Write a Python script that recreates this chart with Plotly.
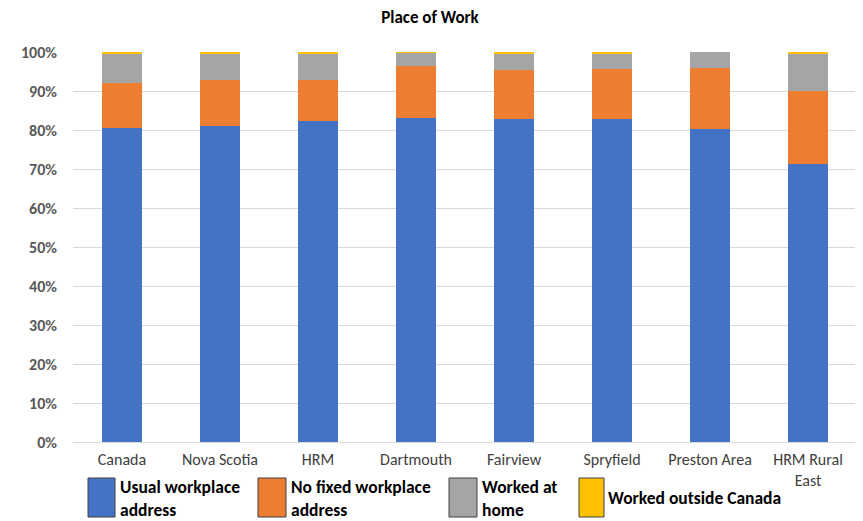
import plotly.graph_objects as go

categories = ["Canada", "Nova Scotia", "HRM", "Dartmouth", "Fairview", "Spryfield", "Preston Area", "HRM Rural<br>East"]
usual_workplace = [80.6, 80.9, 82.3, 83.2, 82.9, 82.9, 80.2, 71.3]
no_fixed = [11.5, 12.0, 10.6, 13.1, 12.6, 12.8, 15.8, 18.7]
worked_home = [7.5, 6.7, 6.6, 3.5, 4.0, 3.8, 4.0, 9.4]
outside_canada = [0.4, 0.4, 0.5, 0.2, 0.5, 0.5, 0.0, 0.6]

series_names = ["Usual workplace<br>address", "No fixed workplace<br>address", "Worked at<br>home", "Worked outside Canada"]
series_values = [usual_workplace, no_fixed, worked_home, outside_canada]
colors = ["#4472C4", "#ED7D31", "#A5A5A5", "#FFC000"]

FONT = "Carlito, Lato, 'Open Sans', sans-serif"
OFF = 8  # page body margin
W, H = 855, 513
ML, MR, MT, MB = 65, 6, 44, 79

fig = go.Figure()
for name, vals, col in zip(series_names, series_values, colors):
    fig.add_trace(go.Bar(x=categories, y=vals, name=name, marker_color=col,
                         marker_line_width=0, showlegend=False))

pw = W - ML - MR
ph = H - MT - MB

def px2x(px):
    return (px - OFF - ML) / pw

def px2y(py):
    return (H - MB - (py - OFF)) / ph

# custom legend with tall swatches (window pixel positions)
legend_items = [
    (88, 115, 118, series_names[0]),
    (258, 286, 289, series_names[1]),
    (449, 477, 480, series_names[2]),
    (579, 604, 606, series_names[3]),
]
shapes = []
annotations = []
for (x0, x1, tx, label), col in zip(legend_items, colors):
    shapes.append(dict(type="rect", xref="paper", yref="paper",
                       x0=px2x(x0), x1=px2x(x1), y0=px2y(517), y1=px2y(478),
                       fillcolor=col, line=dict(color="#404040", width=1)))
    annotations.append(dict(xref="paper", yref="paper", x=px2x(tx), y=px2y(498),
                            text="<b>" + label + "</b>", showarrow=False,
                            xanchor="left", yanchor="middle", align="left",
                            font=dict(family=FONT, size=17.5, color="#000000")))

fig.update_layout(
    width=W, height=H,
    margin=dict(l=ML, r=MR, t=MT, b=MB),
    paper_bgcolor="white", plot_bgcolor="white",
    barmode="stack", bargap=0.59,
    title=dict(text="<b>Place of Work</b>", x=(430 - OFF) / W, xanchor="center",
               y=1 - (17 - OFF) / H, yanchor="middle",
               font=dict(family=FONT, size=17, color="#000000")),
    font=dict(family=FONT),
    shapes=shapes, annotations=annotations,
)
fig.update_yaxes(range=[0, 100], dtick=10, ticksuffix="%", showgrid=True,
                 gridcolor="#D9D9D9", gridwidth=1, zeroline=True, zerolinecolor="#D9D9D9",
                 zerolinewidth=1, showline=False, ticks="", ticklabelstandoff=15,
                 tickfont=dict(family=FONT, size=16, color="#595959", weight="bold"))
fig.update_xaxes(showline=False, ticks="", showgrid=False, ticklabelstandoff=6,
                 tickfont=dict(family=FONT, size=16, color="#404040"))

fig.write_html("out.html")
